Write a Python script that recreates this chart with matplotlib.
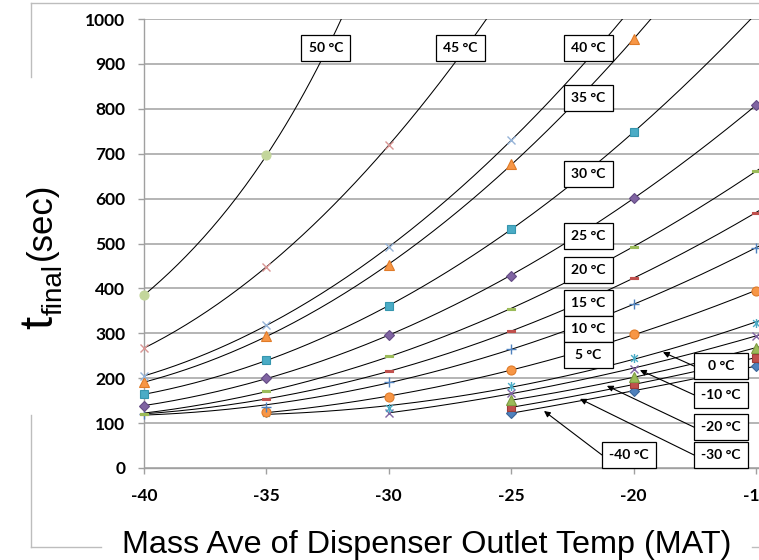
import numpy as np
import matplotlib
matplotlib.use('Agg')
import matplotlib.pyplot as plt
from matplotlib.path import Path
from matplotlib.patches import Rectangle, FancyArrowPatch
from matplotlib.lines import Line2D
from matplotlib.transforms import IdentityTransform

# ---------------- data ----------------
x_ticks = [-40, -35, -30, -25, -20, -15]
y_ticks = [0, 100, 200, 300, 400, 500, 600, 700, 800, 900, 1000]

series_names = ['-40 °C', '-30 °C', '-20 °C', '-10 °C', '0 °C', '5 °C', '10 °C',
                '15 °C', '20 °C', '25 °C', '30 °C', '35 °C', '40 °C', '45 °C', '50 °C']

tm40_x = [-25, -20, -15]
tm40_y = [122, 172, 227]
tm30_x = [-25, -20, -15]
tm30_y = [135, 186, 246]
tm20_x = [-25, -20, -15]
tm20_y = [151, 202, 268]
tm10_x = [-30, -25, -20, -15]
tm10_y = [122, 168, 220, 295]
t0_x = [-35, -30, -25, -20, -15]
t0_y = [122, 133, 183, 244, 324]
t5_x = [-35, -30, -25, -20, -15]
t5_y = [124, 159, 218, 298, 395]
t10_x = [-40, -35, -30, -25, -20, -15]
t10_y = [120, 136, 192, 265, 365, 490]
t15_x = [-40, -35, -30, -25, -20, -15]
t15_y = [121, 153, 216, 305, 423, 569]
t20_x = [-40, -35, -30, -25, -20, -15]
t20_y = [121, 172, 249, 354, 492, 662]
t25_x = [-40, -35, -30, -25, -20, -15]
t25_y = [138, 201, 296, 428, 601, 808]
t30_x = [-40, -35, -30, -25, -20]
t30_y = [164, 240, 361, 532, 748]
t35_x = [-40, -35, -30, -25, -20]
t35_y = [191, 294, 452, 677, 955]
t40_x = [-40, -35, -30, -25]
t40_y = [205, 318, 492, 730]
t45_x = [-40, -35, -30]
t45_y = [267, 448, 719]
t50_x = [-40, -35]
t50_y = [385, 696]

series_x = [tm40_x, tm30_x, tm20_x, tm10_x, t0_x, t5_x, t10_x, t15_x, t20_x,
            t25_x, t30_x, t35_x, t40_x, t45_x, t50_x]
series_y = [tm40_y, tm30_y, tm20_y, tm10_y, t0_y, t5_y, t10_y, t15_y, t20_y,
            t25_y, t30_y, t35_y, t40_y, t45_y, t50_y]

# label boxes (data coords of box centre) ; arrows for the low ones
label_text = ['50 °C', '45 °C', '40 °C', '35 °C', '30 °C', '25 °C', '20 °C',
              '15 °C', '10 °C', '5 °C', '0 °C', '-10 °C', '-20 °C', '-30 °C', '-40 °C']
label_x = [-32.57, -27.09, -21.86, -21.86, -21.86, -21.86, -21.86, -21.86,
           -21.86, -21.86, -16.43, -16.43, -16.43, -16.43, -20.19]
label_y = [935, 935, 935, 824, 655, 517, 441, 367, 310, 252, 227, 163, 91, 29, 29]
arrow_head_x = [None] * 10 + [-18.80, -19.74, -21.09, -22.19, -23.66]
arrow_head_y = [None] * 10 + [258, 218, 183, 154, 127]

x_title = 'Mass Ave of Dispenser Outlet Temp (MAT)'
y_title_t = 't'
y_title_sub = 'final'
y_title_unit = '(sec)'

# ---------------- styles ----------------
dash = Path([(-1, -0.32), (1, -0.32), (1, 0.32), (-1, 0.32), (-1, -0.32)],
            [Path.MOVETO, Path.LINETO, Path.LINETO, Path.LINETO, Path.CLOSEPOLY])
star = Path([(0, -1), (0, 1), (-0.75, -0.75), (0.75, 0.75), (-0.75, 0.75), (0.75, -0.75)],
            [Path.MOVETO, Path.LINETO, Path.MOVETO, Path.LINETO, Path.MOVETO, Path.LINETO])

styles = [
    dict(marker='D', color='#4F81BD', ms=5.0, mec='#3A6699'),
    dict(marker='s', color='#C0504D', ms=5.5, mec='#9E3B38'),
    dict(marker='^', color='#9BBB59', ms=6.5, mec='#7E9C42'),
    dict(marker='x', color='#8064A2', ms=6.0, mew=1.0),
    dict(marker=star, color='#4BACC6', ms=6.5, mew=1.0),
    dict(marker='o', color='#F79646', ms=6.5, mec='#E07B28'),
    dict(marker='+', color='#4F81BD', ms=7.0, mew=1.0),
    dict(marker=dash, color='#C0504D', ms=6.0, mec='#C0504D'),
    dict(marker=dash, color='#9BBB59', ms=6.0, mec='#9BBB59'),
    dict(marker='D', color='#8064A2', ms=5.0, mec='#654C85'),
    dict(marker='s', color='#4BACC6', ms=6.0, mec='#3696AE'),
    dict(marker='^', color='#F79646', ms=6.5, mec='#E07B28'),
    dict(marker='x', color='#95B3D7', ms=6.0, mew=1.0),
    dict(marker='x', color='#D99694', ms=6.0, mew=1.0),
    dict(marker='o', color='#C3D69B', ms=6.5, mec='#C3D69B'),
]

W, H = 759, 560
fig = plt.figure(figsize=(W / 100, H / 100), dpi=100)
fig.patch.set_facecolor('white')

# plot area in pixels: x=-40 at 144, 24.48 px per unit; y=0 at 468, y=1000 at 19
x_left_px, x_per = 144.0, 24.48
xmax = -10
ax_right_px = x_left_px + (xmax + 40) * x_per
y0_px, y1000_px = 468.0, 19.0
ax = fig.add_axes([x_left_px / W, (H - y0_px) / H,
                   (ax_right_px - x_left_px) / W, (y0_px - y1000_px) / H])
ax.set_xlim(-40, xmax)
ax.set_ylim(0, 1000)

grid_c = '#B4B4B4'
ax.set_yticks(y_ticks)
ax.set_xticks(x_ticks)
ax.yaxis.grid(True, color=grid_c, lw=1.4)
ax.set_axisbelow(True)
for s in ['top', 'right']:
    ax.spines[s].set_visible(False)
for s in ['left', 'bottom']:
    ax.spines[s].set_color('#A0A0A0')
    ax.spines[s].set_linewidth(1.0)
ax.tick_params(axis='y', direction='out', length=4.5, width=1.0, color='#A0A0A0', pad=9)
ax.tick_params(axis='x', direction='out', length=4.5, width=1.0, color='#A0A0A0', pad=10)
tick_font = dict(family='Lato', weight='bold', size=12.5)
ax.set_yticklabels([str(v) for v in y_ticks], **tick_font)
ax.set_xticklabels([str(v) for v in x_ticks], **tick_font)

# data + trendlines
for xs, ys, st in zip(series_x, series_y, styles):
    xs = np.array(xs, float)
    ys = np.array(ys, float)
    xx = np.linspace(xs[0], -14.2, 300)
    if len(xs) >= 3:
        c = np.polyfit(xs, ys, 2)
        yy = np.polyval(c, xx)
    else:
        c = np.polyfit(xs, np.log(ys), 1)
        yy = np.exp(np.polyval(c, xx))
    ax.plot(xx, yy, color='black', lw=0.75, zorder=3)
    kw = dict(st)
    col = kw.pop('color')
    mec = kw.pop('mec', col)
    mew = kw.pop('mew', 0.8)
    ax.plot(xs, ys, ls='none', color=col, mfc=col, mec=mec, mew=mew,
            zorder=4, clip_on=False, **kw)

# label boxes and arrows
fig.canvas.draw()
ident = IdentityTransform()
for i, txt in enumerate(label_text):
    cx, cy = ax.transData.transform((label_x[i], label_y[i]))
    w = 49 if i < 10 else 54
    h = 26.5
    if arrow_head_x[i] is not None:
        hx, hy = ax.transData.transform((arrow_head_x[i], arrow_head_y[i]))
        arr = FancyArrowPatch((cx - w / 2, cy), (hx, hy), transform=ident,
                              arrowstyle='-|>', mutation_scale=9, lw=0.8,
                              color='black', shrinkA=0, shrinkB=0, zorder=6)
        fig.add_artist(arr)
    rect = Rectangle((cx - w / 2, cy - h / 2), w, h, transform=ident,
                     facecolor='white', edgecolor='black', lw=0.9, zorder=7)
    fig.add_artist(rect)
    fig.text(cx, cy, txt, transform=ident, ha='center', va='center',
             family='Lato', weight='bold', size=10, zorder=8)

# chart-area border (partially hidden by the axis titles)
border_c = '#BDBDBD'
def seg(x0, y0, x1, y1):
    fig.add_artist(Line2D([x0, x1], [H - y0, H - y1], transform=ident,
                          color=border_c, lw=1.0, zorder=1))
seg(31, 2.5, W, 2.5)
seg(31, 2.5, 31, 77)
seg(31, 415, 31, 547)
seg(31, 547, 101, 547)
seg(752, 547, W, 547)

# axis titles
fig.text(427, H - 553, x_title, transform=ident,
         ha='center', va='baseline', family='Liberation Sans', size=23.3)
rot = dict(transform=ident, rotation=90, rotation_mode='anchor', ha='left',
           va='baseline', family='Liberation Sans')
t1 = fig.text(52, H - 329, y_title_t, size=34, **rot)
fig.canvas.draw()
bb1 = t1.get_window_extent()
t2 = fig.text(62, bb1.y1 + 1, y_title_sub, size=20, **rot)
fig.canvas.draw()
bb2 = t2.get_window_extent()
fig.text(51, bb2.y1 + 4, y_title_unit, size=25, **rot)

fig.savefig('out.png', dpi=100)
